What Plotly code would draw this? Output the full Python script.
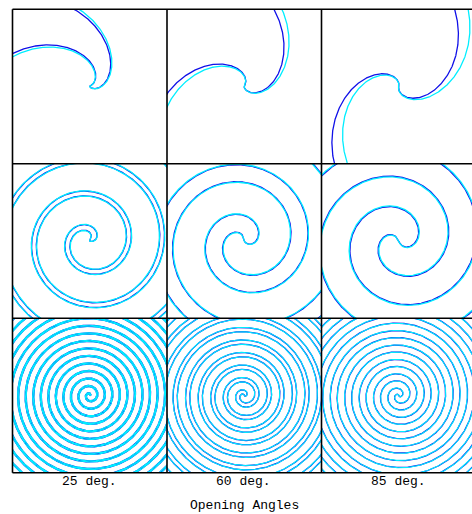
import numpy as np
import plotly.graph_objects as go

# Shock-cone opening angles (one column each) and their captions
opening_angles = [25, 60, 85]
column_labels = ["25 deg.", "60 deg.", "85 deg."]
title_text = "Opening Angles"

# Spiral geometry per panel [row][column] (lengths in panel pixels, angles in degrees)
wind_scale = [[80.0, 80.0, 80.0],          # radial growth per radian far from the apex
              [5.3, 8.0, 9.5],
              [1.2, 2.0, 2.3]]
axis_angle = [[-14.0, -15.0, -14.0],       # orientation of the cone axis
              [25.0, 25.0, 25.0],
              [0.0, 0.0, 0.0]]
inner_twist = [[87.0, 87.0, 87.0],         # extra / reduced winding close to the apex
               [-86.0, -57.0, -48.0],
               [0.0, 0.0, 0.0]]
twist_radius = [22.0, 8.0, 2.0]
apex_size = [[2.0, 0.6, 2.0],              # hyperbola scale at the apex
             [1.5, 1.5, 1.5],
             [0.4, 0.4, 0.4]]

# Second model (cyan): additional opening of the two edges
spread = [[3.0, 8.0, 14.0], [3.5, 4.0, 4.5], [3.0, 4.0, 5.0]]
spread_radius = [[8.0, 30.0, 45.0], [5.0, 5.0, 5.0], [2.0, 2.0, 2.0]]
cyan_width = [1.3, 1.3, 1.1]

BLUE = "#1010e8"
CYAN = "#00eeff"

W, H = 472, 514
col_px = [(12.5, 167.0), (167.0, 321.5), (321.5, 476.0)]
row_px = [(9.3, 163.7), (163.7, 318.3), (318.3, 472.7)]
HALF = 77.25


def spiral_edges(beta_deg, ri, ci, extra_deg, extra_r):
    """Both edges of the wound cone, joined through the apex."""
    r = np.linspace(1e-3, 112.0, 60000)
    t = np.tan(np.radians(beta_deg))
    c = apex_size[ri][ci]
    xp = (-c * t * t + np.sqrt(c * c * t ** 4 + (1 + t * t) * r * r)) / (1 + t * t)
    yp = t * np.sqrt(xp * xp + 2 * c * xp)
    h = np.degrees(np.arctan2(yp, xp))
    w = (np.degrees(r / wind_scale[ri][ci])
         + inner_twist[ri][ci] * (1 - np.exp(-r / twist_radius[ri])))
    widen = extra_deg * (1 - np.exp(-r / extra_r)) if extra_deg else 0.0
    lead = np.radians(axis_angle[ri][ci] + w + h + widen)
    trail = np.radians(axis_angle[ri][ci] + w - h - widen)
    x = np.concatenate([(r * np.cos(trail))[::-1], r * np.cos(lead)])
    y = np.concatenate([(r * np.sin(trail))[::-1], r * np.sin(lead)])
    # keep roughly one vertex per 0.6 px of path length
    seg = np.hypot(np.diff(x), np.diff(y))
    s = np.concatenate([[0.0], np.cumsum(seg)])
    keep = np.concatenate([[True], np.diff(np.floor(s / 0.6)) > 0])
    keep[-1] = True
    return np.round(x[keep], 2), np.round(y[keep], 2)


fig = go.Figure()
for ri in range(3):
    for ci in range(3):
        k = ri * 3 + ci + 1
        xa = "x" if k == 1 else f"x{k}"
        ya = "y" if k == 1 else f"y{k}"
        beta = opening_angles[ci]
        xb, yb = spiral_edges(beta, ri, ci, 0.0, 1.0)
        xc, yc = spiral_edges(beta, ri, ci, spread[ri][ci], spread_radius[ri][ci])
        fig.add_trace(go.Scatter(x=xb, y=yb, mode="lines", xaxis=xa, yaxis=ya,
                                 line=dict(color=BLUE, width=1.3), hoverinfo="skip",
                                 showlegend=False))
        fig.add_trace(go.Scatter(x=xc, y=yc, mode="lines", xaxis=xa, yaxis=ya,
                                 line=dict(color=CYAN, width=cyan_width[ri]), hoverinfo="skip",
                                 showlegend=False))
        x0, x1 = col_px[ci]
        y0, y1 = row_px[ri]
        x1v = min(x1, W)
        xname = "xaxis" if k == 1 else f"xaxis{k}"
        yname = "yaxis" if k == 1 else f"yaxis{k}"
        fig.layout[xname] = dict(domain=[x0 / W, x1v / W], range=[-HALF, -HALF + (x1v - x0)],
                                 visible=False, anchor=ya)
        fig.layout[yname] = dict(domain=[1 - y1 / H, 1 - y0 / H], range=[-HALF, HALF],
                                 visible=False, anchor=xa)

# panel frame: outer box and the dividing lines
frame = dict(color="black", width=1.6)
shapes = []
for xv in [col_px[0][0], col_px[1][0], col_px[2][0]]:
    shapes.append(dict(type="line", xref="paper", yref="paper", x0=xv / W, x1=xv / W,
                       y0=1 - row_px[2][1] / H, y1=1 - row_px[0][0] / H, line=frame))
for yv in [row_px[0][0], row_px[1][0], row_px[2][0], row_px[2][1]]:
    shapes.append(dict(type="line", xref="paper", yref="paper", x0=col_px[0][0] / W, x1=1,
                       y0=1 - yv / H, y1=1 - yv / H, line=frame))

annotations = []
for ci, lab in enumerate(column_labels):
    cx = (col_px[ci][0] + col_px[ci][1] - 1.5) / 2
    annotations.append(dict(text=lab, x=cx / W, y=1 - 481.5 / H, xref="paper", yref="paper",
                            showarrow=False, xanchor="center", yanchor="middle",
                            font=dict(family="Liberation Mono", size=13, color="black")))
annotations.append(dict(text=title_text, x=245 / W, y=1 - 505 / H, xref="paper", yref="paper",
                        showarrow=False, xanchor="center", yanchor="middle",
                        font=dict(family="Liberation Mono", size=13, color="black")))

fig.update_layout(width=W, height=H, margin=dict(l=0, r=0, t=0, b=0),
                  paper_bgcolor="white", plot_bgcolor="white",
                  annotations=annotations, shapes=shapes)

fig.write_html("out.html")
